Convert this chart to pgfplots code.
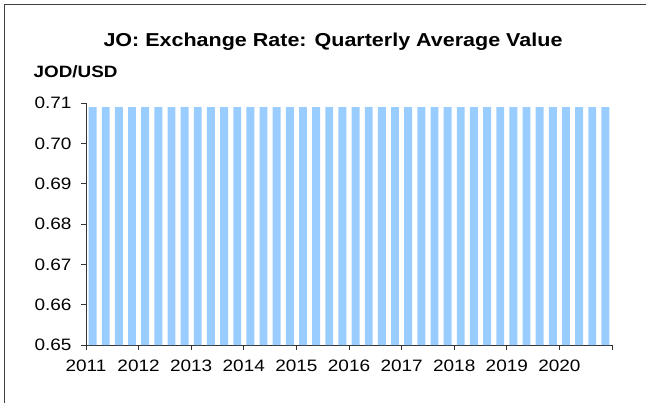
\documentclass[border=0pt]{standalone}
\usepackage{pgfplots}
\pgfplotsset{compat=1.18}
\usepackage{fontspec}
\setmainfont[FakeStretch=1.15]{Liberation Sans}
\definecolor{barblue}{RGB}{153,204,255}
\definecolor{framegray}{RGB}{64,64,64}
\begin{document}
\begin{tikzpicture}[x=1bp,y=1bp]
\useasboundingbox (0,0) rectangle (646,402);
\draw[framegray,line width=1.2bp] (4.3,-2) -- (4.3,397.7) -- (650,397.7);
\node[anchor=base,font=\fontsize{18.7bp}{20bp}\selectfont\bfseries] at (333,356) {JO: Exchange Rate: Quarterly Average Value};
\node[anchor=base west,inner sep=0pt,font=\fontsize{16.4bp}{18bp}\selectfont\bfseries] at (33.5,324.7) {JOD/USD};
\begin{axis}[
  at={(86bp,57bp)}, anchor=origin,
  scale only axis, width=526bp, height=242bp,
  xmin=0, xmax=40, ymin=0.65, ymax=0.71,
  axis x line*=bottom, axis y line*=left,
  axis line style={black!80, line width=0.8bp},
  xtick={0,4,...,40},
  xticklabels={2011,2012,2013,2014,2015,2016,2017,2018,2019,2020,},
  ytick={0.65,0.66,...,0.71},
  yticklabel style={/pgf/number format/fixed,/pgf/number format/fixed zerofill,/pgf/number format/precision=2,xshift=-6bp},
  /pgf/number format/assume math mode=true,
  tick style={black!80, line width=0.8bp},
  tick align=outside, major tick length=5bp,
  tick label style={font=\fontsize{16.5bp}{18bp}\selectfont},
  xticklabel style={yshift=-6bp},
  clip=false,
]
\addplot[ybar, bar width=0.6, fill=barblue, draw=none] coordinates {
(0.5,0.709)(1.5,0.709)(2.5,0.709)(3.5,0.709)
(4.5,0.709)(5.5,0.709)(6.5,0.709)(7.5,0.709)
(8.5,0.709)(9.5,0.709)(10.5,0.709)(11.5,0.709)
(12.5,0.709)(13.5,0.709)(14.5,0.709)(15.5,0.709)
(16.5,0.709)(17.5,0.709)(18.5,0.709)(19.5,0.709)
(20.5,0.709)(21.5,0.709)(22.5,0.709)(23.5,0.709)
(24.5,0.709)(25.5,0.709)(26.5,0.709)(27.5,0.709)
(28.5,0.709)(29.5,0.709)(30.5,0.709)(31.5,0.709)
(32.5,0.709)(33.5,0.709)(34.5,0.709)(35.5,0.709)
(36.5,0.709)(37.5,0.709)(38.5,0.709)(39.5,0.709)
};
\end{axis}
\end{tikzpicture}
\end{document}
